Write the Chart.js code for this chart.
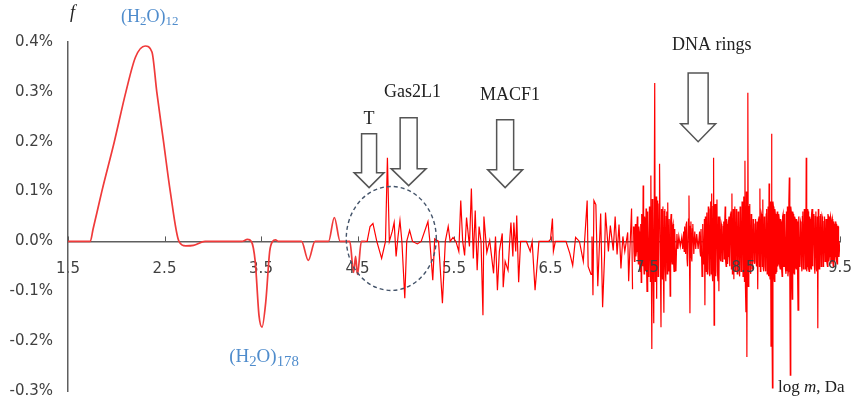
<!DOCTYPE html>
<html>
<head>
<meta charset="utf-8">
<script src="https://cdn.jsdelivr.net/npm/chart.js@4.4.1/dist/chart.umd.min.js"></script>
<style>
  html, body { margin: 0; padding: 0; background: #fff; }
  #chart { display: block; }
</style>
</head>
<body>
<canvas id="chart" width="861" height="402"></canvas>
<script>
// Données : [log m, f en %]
// Partie lisse (pics de l'eau)
const waterPoints = [
  [1.5, 0], [1.73, 0], [1.76, 0.025], [1.80, 0.058], [1.85, 0.10], [1.98, 0.20],
  [2.10, 0.30], [2.20, 0.37], [2.30, 0.392], [2.37, 0.38], [2.42, 0.30], [2.49, 0.20],
  [2.56, 0.10], [2.65, 0], [2.72, -0.009], [2.80, -0.008], [2.92, 0], [3.30, 0],
  [3.36, 0.004], [3.40, 0], [3.44, -0.04], [3.48, -0.15], [3.51, -0.172], [3.55, -0.12],
  [3.59, -0.02], [3.62, 0], [3.65, 0.003], [3.68, 0], [3.92, 0], [3.99, -0.038],
  [4.06, 0], [4.20, 0], [4.26, 0.048], [4.32, 0], [4.42, 0], [4.46, -0.062],
  [4.48, -0.03], [4.50, -0.066], [4.54, 0], [4.58, 0]
];

// Pics isolés (protéines)
const proteinPoints = [
  [4.58, 0], [4.60, 0], [4.63, 0.03], [4.66, 0.036], [4.70, 0], [4.75, -0.034],
  [4.79, 0], [4.81, 0.168], [4.83, 0], [4.86, 0.02], [4.88, 0.038], [4.90, -0.03],
  [4.92, 0.01], [4.94, 0.042], [4.96, 0], [4.99, -0.114], [5.01, 0], [5.04, 0.022],
  [5.07, 0], [5.12, -0.005], [5.16, 0], [5.23, 0.04], [5.25, 0], [5.28, -0.078],
  [5.30, 0.005], [5.34, 0], [5.38, -0.124], [5.41, 0], [5.44, 0.03], [5.46, 0],
  [5.49, 0.008], [5.52, 0], [5.55, -0.02], [5.57, 0.082], [5.59, 0], [5.61, -0.028],
  [5.63, 0.048], [5.66, -0.01], [5.68, 0.106], [5.70, -0.034], [5.72, 0.062], [5.74, -0.058],
  [5.76, 0.03], [5.78, 0], [5.80, -0.148], [5.81, 0.05], [5.84, -0.022], [5.87, 0.002],
  [5.91, -0.064], [5.93, 0.01], [5.95, -0.098], [5.97, -0.02], [6.00, 0.016], [6.01, -0.092],
  [6.03, -0.04], [6.06, -0.058], [6.08, 0.01], [6.09, 0.038], [6.11, -0.03], [6.12, 0.038],
  [6.14, -0.02], [6.15, 0.052], [6.17, -0.082], [6.19, 0], [6.25, 0], [6.29, -0.02],
  [6.31, 0], [6.34, -0.098], [6.36, -0.05], [6.38, 0], [6.48, 0], [6.50, 0.004],
  [6.52, 0.046], [6.53, -0.02], [6.55, 0], [6.66, 0], [6.70, -0.024], [6.73, -0.048],
  [6.76, 0.008], [6.80, 0], [6.84, -0.04], [6.88, 0.082], [6.89, -0.05], [6.92, -0.066],
  [6.93, 0.01], [6.94, -0.108], [6.95, 0.082], [6.97, 0.074], [6.99, -0.09], [7.02, 0.056],
  [7.04, -0.132], [7.06, -0.03], [7.07, 0.058], [7.10, -0.02], [7.12, 0.032], [7.15, -0.018],
  [7.17, 0.05], [7.19, -0.026], [7.21, 0.034], [7.23, -0.054], [7.25, 0.01], [7.27, -0.02],
  [7.30, 0.018], [7.31, -0.08], [7.34, 0.066], [7.35, -0.096]
];

// Zone dense (anneaux d'ADN)
const dnaPoints = [
  [7.36, 0.03], [7.365, -0.02], [7.37, -0.04], [7.375, 0.02], [7.38, 0.035], [7.385, -0.03],
  [7.39, -0.02], [7.395, 0.025], [7.40, 0.05], [7.405, -0.02], [7.41, -0.045], [7.415, 0.03],
  [7.42, 0.02], [7.425, -0.05], [7.43, -0.06], [7.435, 0.035], [7.44, -0.082], [7.445, 0.055],
  [7.45, 0.04], [7.455, -0.05], [7.46, 0.112], [7.465, -0.04], [7.47, -0.065], [7.475, 0.05],
  [7.48, 0.04], [7.485, -0.06], [7.49, 0.066], [7.495, -0.045], [7.50, -0.10], [7.505, 0.06],
  [7.51, 0.045], [7.515, -0.07], [7.52, -0.06], [7.525, 0.07], [7.53, 0.05], [7.535, -0.08],
  [7.54, 0.132], [7.55, -0.216], [7.555, 0.085], [7.56, 0.06], [7.565, -0.075], [7.57, -0.164],
  [7.58, 0.318], [7.585, -0.08], [7.59, -0.065], [7.595, 0.09], [7.60, -0.115], [7.605, 0.06],
  [7.61, 0.082], [7.615, -0.07], [7.62, -0.055], [7.625, 0.075], [7.63, 0.156], [7.64, -0.07],
  [7.645, -0.172], [7.65, 0.065], [7.655, 0.05], [7.66, -0.075], [7.665, 0.07], [7.67, -0.06],
  [7.675, -0.143], [7.68, 0.06], [7.685, 0.065], [7.69, -0.055], [7.695, -0.08], [7.70, 0.05],
  [7.705, 0.06], [7.71, -0.065], [7.715, 0.078], [7.72, -0.05], [7.725, -0.06], [7.73, 0.045],
  [7.74, -0.11], [7.745, 0.04], [7.75, 0.055], [7.755, -0.035], [7.76, -0.045], [7.765, 0.03],
  [7.77, 0.035], [7.775, -0.04], [7.78, -0.06], [7.785, 0.025], [7.79, 0.02], [7.795, -0.03],
  [7.80, -0.06], [7.81, 0.015], [7.82, -0.015], [7.83, 0.01], [7.845, -0.01], [7.86, 0.008],
  [7.87, -0.015], [7.88, 0.02], [7.885, -0.02], [7.89, 0.03], [7.90, -0.025], [7.905, 0.035],
  [7.91, 0.04], [7.915, -0.035], [7.92, -0.05], [7.93, 0.045], [7.935, 0.092], [7.945, -0.144],
  [7.95, 0.03], [7.955, 0.04], [7.96, -0.03], [7.965, -0.04], [7.97, 0.025], [7.975, 0.035],
  [7.985, -0.025], [7.995, 0.02], [8.005, -0.015], [8.015, 0.015], [8.03, -0.015], [8.045, 0.02],
  [8.05, -0.02], [8.055, -0.03], [8.06, 0.025], [8.07, -0.07], [8.075, 0.035], [8.08, 0.03],
  [8.085, -0.045], [8.09, -0.04], [8.095, 0.045], [8.10, -0.128], [8.105, 0.05], [8.11, 0.04],
  [8.115, -0.06], [8.12, 0.058], [8.125, -0.065], [8.13, -0.05], [8.135, 0.07], [8.14, 0.06],
  [8.145, -0.055], [8.15, -0.07], [8.155, 0.065], [8.16, 0.08], [8.165, -0.065], [8.17, 0.096],
  [8.175, -0.06], [8.18, -0.08], [8.185, 0.07], [8.19, 0.168], [8.195, -0.168], [8.20, 0.06],
  [8.205, 0.075], [8.21, -0.06], [8.215, -0.07], [8.22, 0.055], [8.225, 0.084], [8.23, -0.06],
  [8.235, -0.08], [8.24, 0.05], [8.245, -0.10], [8.25, 0.045], [8.255, 0.05], [8.26, -0.035],
  [8.265, -0.04], [8.27, 0.035], [8.275, 0.03], [8.28, -0.04], [8.285, -0.03], [8.29, 0.03],
  [8.295, 0.04], [8.30, -0.035], [8.305, 0.035], [8.31, 0.07], [8.315, -0.04], [8.32, -0.05],
  [8.325, 0.045], [8.33, 0.035], [8.335, -0.045], [8.34, -0.03], [8.345, 0.04], [8.35, 0.05],
  [8.355, -0.05], [8.36, -0.045], [8.365, 0.055], [8.37, 0.06], [8.375, -0.055], [8.38, 0.096],
  [8.385, -0.065], [8.39, -0.05], [8.395, 0.065], [8.40, -0.076], [8.405, 0.06], [8.41, 0.07],
  [8.415, -0.06], [8.42, -0.05], [8.425, 0.065], [8.43, 0.055], [8.435, -0.065], [8.44, -0.055],
  [8.445, 0.06], [8.45, 0.05], [8.455, -0.06], [8.46, -0.07], [8.465, 0.07], [8.47, 0.06],
  [8.475, -0.06], [8.48, -0.05], [8.485, 0.08], [8.49, 0.07], [8.495, -0.07], [8.50, -0.06],
  [8.505, 0.09], [8.51, -0.08], [8.515, 0.162], [8.52, -0.09], [8.525, -0.142], [8.53, 0.10],
  [8.535, -0.232], [8.54, 0.09], [8.545, 0.298], [8.55, -0.09], [8.555, -0.08], [8.56, 0.07],
  [8.565, 0.075], [8.57, -0.06], [8.575, -0.065], [8.58, 0.055], [8.585, 0.05], [8.59, -0.055],
  [8.595, -0.045], [8.60, 0.045], [8.605, 0.035], [8.61, -0.04], [8.615, -0.045], [8.62, 0.035],
  [8.625, 0.045], [8.63, -0.04], [8.635, -0.05], [8.64, 0.04], [8.645, -0.045], [8.65, -0.096],
  [8.655, 0.045], [8.66, 0.05], [8.665, -0.05], [8.67, 0.106], [8.675, -0.06], [8.68, -0.05],
  [8.685, 0.055], [8.69, 0.05], [8.695, -0.05], [8.70, 0.084], [8.705, -0.055], [8.71, -0.06],
  [8.715, 0.05], [8.72, 0.045], [8.725, -0.05], [8.73, -0.06], [8.735, 0.055], [8.74, 0.065],
  [8.745, -0.065], [8.75, -0.055], [8.755, 0.07], [8.76, -0.07], [8.765, 0.116], [8.77, -0.06],
  [8.775, -0.075], [8.78, 0.08], [8.785, -0.21], [8.79, 0.216], [8.795, -0.09], [8.80, -0.294],
  [8.805, 0.08], [8.81, 0.07], [8.815, -0.07], [8.82, -0.08], [8.825, 0.065], [8.83, 0.055],
  [8.835, -0.065], [8.84, -0.06], [8.845, 0.05], [8.85, 0.06], [8.855, -0.05], [8.86, -0.045],
  [8.865, 0.055], [8.87, 0.045], [8.875, -0.05], [8.88, -0.055], [8.885, 0.045], [8.89, 0.04],
  [8.895, -0.055], [8.90, -0.07], [8.905, 0.05], [8.91, 0.055], [8.915, -0.05], [8.92, -0.05],
  [8.925, 0.055], [8.93, 0.045], [8.935, -0.055], [8.94, -0.065], [8.945, 0.06], [8.95, -0.06],
  [8.955, 0.07], [8.96, -0.07], [8.965, -0.06], [8.97, 0.08], [8.975, 0.128], [8.98, -0.08],
  [8.985, -0.268], [8.99, 0.07], [8.995, 0.06], [9.00, -0.07], [9.005, -0.116], [9.01, 0.06],
  [9.015, 0.055], [9.02, -0.06], [9.025, -0.065], [9.03, 0.05], [9.035, 0.045], [9.04, -0.05],
  [9.045, -0.055], [9.05, 0.045], [9.055, 0.04], [9.06, -0.06], [9.065, -0.138], [9.07, 0.05],
  [9.075, 0.045], [9.08, -0.05], [9.085, -0.045], [9.09, 0.04], [9.095, 0.035], [9.10, -0.045],
  [9.105, -0.06], [9.11, 0.05], [9.115, 0.06], [9.12, -0.055], [9.125, -0.05], [9.13, 0.065],
  [9.135, 0.06], [9.14, -0.055], [9.145, -0.045], [9.15, 0.168], [9.155, -0.06], [9.16, -0.05],
  [9.165, 0.065], [9.17, 0.06], [9.175, -0.055], [9.18, -0.06], [9.185, 0.05], [9.19, 0.045],
  [9.195, -0.05], [9.20, -0.055], [9.205, 0.055], [9.21, 0.065], [9.215, -0.05], [9.22, -0.04],
  [9.225, 0.05], [9.23, 0.055], [9.235, -0.05], [9.24, -0.065], [9.245, 0.05], [9.25, 0.06],
  [9.255, -0.055], [9.26, -0.06], [9.265, 0.05], [9.27, -0.174], [9.275, 0.065], [9.28, 0.06],
  [9.285, -0.055], [9.29, -0.05], [9.295, 0.05], [9.30, 0.055], [9.305, -0.05], [9.31, -0.045],
  [9.315, 0.05], [9.32, 0.045], [9.325, -0.05], [9.33, -0.045], [9.335, 0.04], [9.34, 0.05],
  [9.345, -0.04], [9.35, -0.035], [9.355, 0.045], [9.36, 0.035], [9.365, -0.04], [9.37, -0.05],
  [9.375, 0.055], [9.38, 0.05], [9.385, -0.04], [9.39, -0.03], [9.395, 0.045], [9.40, 0.05],
  [9.405, -0.045], [9.41, -0.04], [9.415, 0.04], [9.42, 0.045], [9.425, -0.04], [9.43, -0.05],
  [9.435, 0.04], [9.44, 0.035], [9.445, -0.04], [9.45, -0.03], [9.455, 0.04], [9.46, 0.035],
  [9.465, -0.04], [9.47, -0.045], [9.475, 0.03], [9.48, 0.03], [9.485, -0.03], [9.49, -0.03],
  [9.50, 0]
];

// Bornes des axes
const xMin = 1.5, xMax = 9.5, xStep = 1;
const yMin = -0.3, yMax = 0.4, yStep = 0.1;

// Flèches : [log m de la pointe, f de la pointe, f début de tête, f haut, demi-largeur tige, demi-largeur tête]
const arrows = [
  [4.62, 0.108, 0.138, 0.216, 7.5, 15],
  [5.03, 0.112, 0.146, 0.248, 8.5, 17.5],
  [6.03, 0.108, 0.144, 0.244, 8.5, 17.5],
  [8.03, 0.200, 0.236, 0.338, 10, 17.5]
];

// Étiquettes noires : [texte, log m, f]
const labels = [
  ['T', 4.62, 0.236],
  ['Gas2L1', 5.07, 0.290],
  ['MACF1', 6.08, 0.284],
  ['DNA rings', 8.17, 0.384]
];

// Graduations x écrites par-dessus la zone dense
const overlayFrom = 7;

const toXY = pts => pts.map(p => ({ x: p[0], y: p[1] }));

function fmtPct(v) {
  if (Math.abs(v) < 1e-9) v = 0;
  return v.toFixed(1) + '%';
}

// Écrit un texte avec indices (ex : (H2O)12)
function drawChem(ctx, parts, x, y, size, ratio) {
  let cx = x;
  parts.forEach(([txt, sub]) => {
    ctx.font = (sub ? size * ratio : size) + 'px "Liberation Serif"';
    ctx.fillText(txt, cx, sub ? y + size * 0.18 : y);
    cx += ctx.measureText(txt).width;
  });
}

// Supprime les marges automatiques des axes
function noPadding(scale) {
  scale.paddingLeft = 0;
  scale.paddingRight = 0;
  scale.paddingTop = 0;
  scale.paddingBottom = 0;
}

const annotations = {
  id: 'annotations',
  beforeDatasetsDraw(chart) {
    // Petites graduations au-dessus de l'axe horizontal
    const { ctx, scales: { x, y } } = chart;
    const y0 = y.getPixelForValue(0);
    ctx.save();
    ctx.strokeStyle = '#595959';
    ctx.lineWidth = 1;
    x.ticks.forEach(t => {
      const px = Math.round(x.getPixelForValue(t.value)) + 0.5;
      ctx.beginPath();
      ctx.moveTo(px, y0 - 5);
      ctx.lineTo(px, y0);
      ctx.stroke();
    });
    ctx.restore();
  },
  afterDatasetsDraw(chart) {
    const { ctx, scales: { x, y } } = chart;
    const y0 = y.getPixelForValue(0);
    ctx.save();

    // Étiquettes de l'axe x par-dessus la zone dense
    ctx.fillStyle = '#404040';
    ctx.font = '15px "DejaVu Sans"';
    ctx.textAlign = 'center';
    ctx.textBaseline = 'top';
    x.ticks.forEach(t => {
      if (t.value > overlayFrom) ctx.fillText(t.label, x.getPixelForValue(t.value), y0 + 19);
    });

    // Cercle pointillé
    ctx.strokeStyle = '#44546a';
    ctx.lineWidth = 1.4;
    ctx.setLineDash([4, 3]);
    ctx.beginPath();
    ctx.ellipse(x.getPixelForValue(4.85), y.getPixelForValue(0.006), 45, 52, 0, 0, Math.PI * 2);
    ctx.stroke();
    ctx.setLineDash([]);

    // Flèches creuses
    ctx.strokeStyle = '#555';
    ctx.fillStyle = '#fff';
    ctx.lineWidth = 1.5;
    arrows.forEach(([xv, tip, head, top, sw, hw]) => {
      const cx = x.getPixelForValue(xv);
      const ty = y.getPixelForValue(tip);
      const hy = y.getPixelForValue(head);
      const py = y.getPixelForValue(top);
      ctx.beginPath();
      ctx.moveTo(cx - sw, py);
      ctx.lineTo(cx + sw, py);
      ctx.lineTo(cx + sw, hy);
      ctx.lineTo(cx + hw, hy);
      ctx.lineTo(cx, ty);
      ctx.lineTo(cx - hw, hy);
      ctx.lineTo(cx - sw, hy);
      ctx.closePath();
      ctx.fill();
      ctx.stroke();
    });

    // Étiquettes
    ctx.fillStyle = '#222';
    ctx.textAlign = 'center';
    ctx.textBaseline = 'alphabetic';
    ctx.font = '18px "Liberation Serif"';
    labels.forEach(([txt, xv, yv]) => {
      ctx.fillText(txt, x.getPixelForValue(xv), y.getPixelForValue(yv));
    });

    // f (titre de l'axe vertical)
    ctx.textAlign = 'left';
    ctx.font = 'italic 18px "Liberation Serif"';
    ctx.fillText('f', x.left + 2, 18);

    // log m, Da
    const lx = x.right - 62;
    const ly = y.bottom + 1;
    ctx.font = '17px "Liberation Serif"';
    ctx.fillText('log ', lx, ly);
    let w = ctx.measureText('log ').width;
    ctx.font = 'italic 17px "Liberation Serif"';
    ctx.fillText('m', lx + w, ly);
    w += ctx.measureText('m').width;
    ctx.font = '17px "Liberation Serif"';
    ctx.fillText(', Da', lx + w, ly);

    // Formules de l'eau en bleu
    ctx.fillStyle = '#4f8ccc';
    drawChem(ctx, [['(H', false], ['2', true], ['O)', false], ['12', true]],
      x.getPixelForValue(2.05), y.getPixelForValue(0.44), 18, 0.72);
    drawChem(ctx, [['(H', false], ['2', true], ['O)', false], ['178', true]],
      x.getPixelForValue(3.17), y.getPixelForValue(-0.242), 19, 0.78);

    ctx.restore();
  }
};

const lineStyle = {
  borderColor: '#ff0000',
  borderWidth: 1.2,
  pointRadius: 0,
  tension: 0,
  fill: false
};

new Chart(document.getElementById('chart'), {
  type: 'line',
  data: {
    datasets: [
      {
        data: toXY(waterPoints),
        borderColor: '#f03a3a',
        borderWidth: 1.7,
        pointRadius: 0,
        cubicInterpolationMode: 'monotone',
        fill: false
      },
      Object.assign({ data: toXY(proteinPoints) }, lineStyle),
      Object.assign({ data: toXY(dnaPoints) }, lineStyle)
    ]
  },
  options: {
    responsive: false,
    animation: false,
    devicePixelRatio: 1,
    layout: { padding: { left: 0, right: 21, top: 42, bottom: 11 } },
    plugins: {
      legend: { display: false },
      tooltip: { enabled: false }
    },
    scales: {
      x: {
        type: 'linear',
        min: xMin,
        max: xMax,
        position: { y: 0 },
        grid: { display: false, drawTicks: false },
        border: { display: true, color: '#5f5f5f', width: 1.5 },
        afterFit: noPadding,
        ticks: {
          stepSize: xStep,
          autoSkip: false,
          maxRotation: 0,
          padding: 19,
          color: c => (c.tick && c.tick.value > overlayFrom) ? 'rgba(0,0,0,0)' : '#404040',
          font: { family: '"DejaVu Sans"', size: 15 },
          callback: v => v.toFixed(1)
        }
      },
      y: {
        type: 'linear',
        min: yMin,
        max: yMax,
        grid: { display: false, drawTicks: false },
        border: { display: true, color: '#5f5f5f', width: 1.5 },
        afterFit: scale => { scale.width = 68; noPadding(scale); },
        ticks: {
          stepSize: yStep,
          padding: 15,
          color: '#404040',
          font: { family: '"DejaVu Sans"', size: 15 },
          callback: v => fmtPct(v)
        }
      }
    }
  },
  plugins: [annotations]
});
</script>
</body>
</html>
